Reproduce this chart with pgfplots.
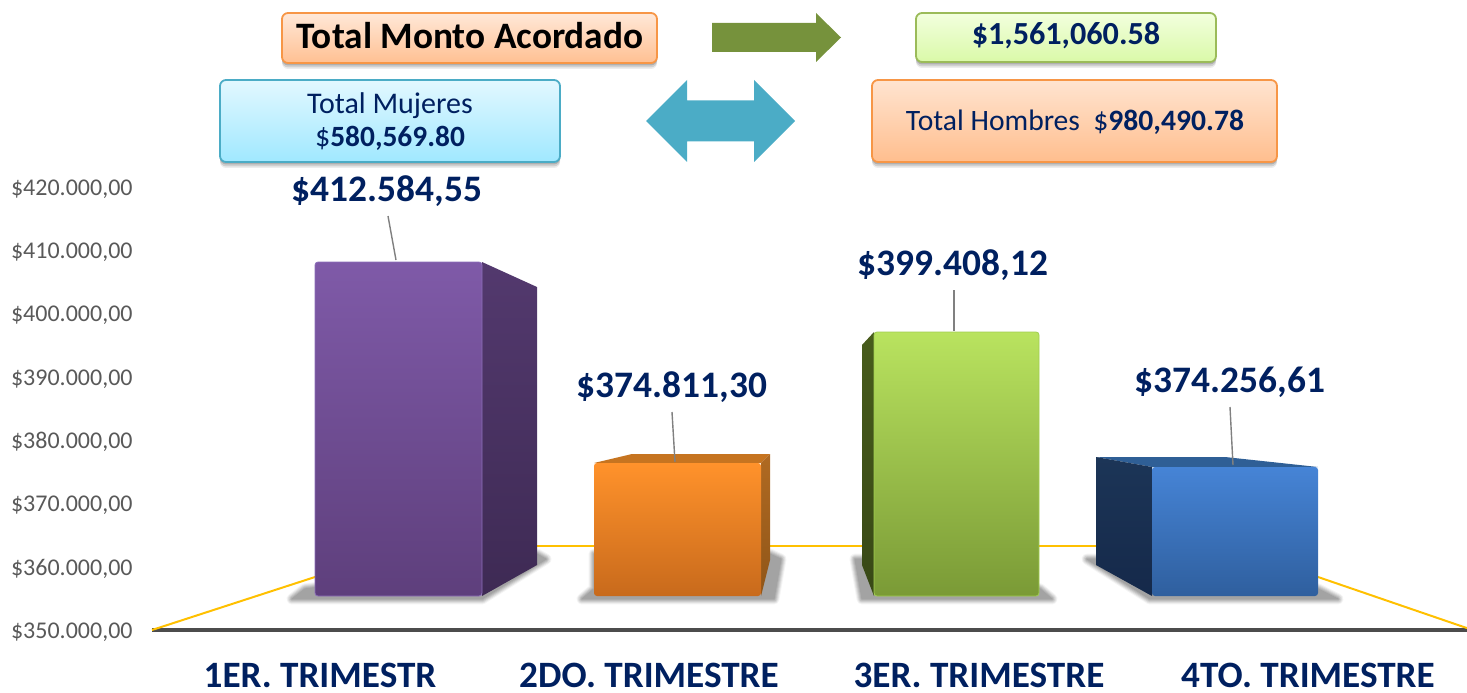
\documentclass[border=0pt]{standalone}
\usepackage{fontspec}
\setmainfont{Carlito}
\usepackage{pgfplots}
\pgfplotsset{compat=1.18}
\usetikzlibrary{shadows}

\definecolor{navy}{HTML}{002060}
\definecolor{tickgray}{HTML}{595959}
\definecolor{floorline}{HTML}{FFC000}
\definecolor{orangeline}{HTML}{F79646}
\definecolor{greenline}{HTML}{9BBB59}
\definecolor{blueline}{HTML}{4BACC6}
\definecolor{arrowgreen}{HTML}{76923C}

% floor shadow: same polygon, opaque, darker and narrower each pass, to fake the blur
\newcommand{\floorshadow}[1]{%
  \addplot[draw=black!4,fill=black!4,line width=5.5pt,line join=round] coordinates {#1} --cycle;
  \addplot[draw=black!10,fill=black!10,line width=4.5pt,line join=round] coordinates {#1} --cycle;
  \addplot[draw=black!17,fill=black!17,line width=3.5pt,line join=round] coordinates {#1} --cycle;
  \addplot[draw=black!24,fill=black!24,line width=2.5pt,line join=round] coordinates {#1} --cycle;
  \addplot[draw=black!30,fill=black!30,line width=1.5pt,line join=round] coordinates {#1} --cycle;
  \addplot[draw=black!36,fill=black!36,line width=.5pt,line join=round] coordinates {#1} --cycle;
}

\begin{document}
\begin{tikzpicture}
\path[use as bounding box] (-76pt,-31pt) rectangle (657.5pt,315pt);
\begin{axis}[
  scale only axis,
  width=657.5pt,
  height=315pt,
  clip=false,
  no markers,
  xmin=152, xmax=1467,
  ymin=350000, ymax=449540,
  axis x line*=bottom,
  axis y line*=left,
  x axis line style={-,draw=black!70,line width=1.6pt},
  y axis line style={draw=none},
  major tick length=0pt,
  xtick={320,649,979,1308},
  xticklabels={1ER. TRIMESTR,2DO. TRIMESTRE,3ER. TRIMESTRE,4TO. TRIMESTRE},
  xticklabel style={font=\fontsize{18.6}{20}\selectfont\bfseries,text=navy,anchor=base,inner sep=0pt,yshift=-28.8pt},
  ytick={350000,360000,370000,380000,390000,400000,410000,420000},
  scaled y ticks=false,
  yticklabel={\$\pgfmathprintnumber{\tick}},
  yticklabel style={font=\fontsize{12}{14}\selectfont,text=tickgray,anchor=east,inner sep=0pt,xshift=-9.5pt,yshift=-1pt,
    /pgf/number format/.cd,fixed,fixed zerofill,precision=2,use comma,1000 sep={.},assume math mode=true},
]
% shadows
\floorshadow{(292,354900) (482,354900) (546,361200) (537,362000) (482,360000) (305,356500)}
\floorshadow{(582,354900) (774,354900) (781,361200) (770,362000) (594,362000) (594,356500)}
\floorshadow{(855,361200) (880,361200) (1040,356500) (1052,354900) (862,354900)}
\floorshadow{(1087,361200) (1105,361200) (1318,356500) (1338,354900) (1150,354900)}

% yellow floor
\addplot[floorline,line width=1pt] coordinates {(152,350000) (315,358374)};
\addplot[floorline,line width=1pt] coordinates {(537,363272) (1100,363272)};
\addplot[floorline,line width=1pt] coordinates {(1318,358374) (1467,350300)};

% bar 1, purple
\addplot[draw=none,top color={rgb,255:red,83;green,57;blue,110},bottom color={rgb,255:red,62;green,42;blue,84}]
  coordinates {(482,408144) (537,404194) (537,360270) (482,355372)} --cycle;
\addplot[draw={rgb,255:red,140;green,110;blue,185},line width=.4pt,rounded corners=1.5pt,top color={rgb,255:red,127;green,90;blue,168},bottom color={rgb,255:red,94;green,63;blue,124}]
  coordinates {(315,408144) (482,408144) (482,355372) (315,355372)} --cycle;

% bar 2, orange
\addplot[draw=none,fill={rgb,255:red,198;green,116;blue,32}]
  coordinates {(594,376386) (632,377808) (770,377808) (761,376386)} --cycle;
\addplot[draw=none,top color={rgb,255:red,176;green,106;blue,34},bottom color={rgb,255:red,143;green,85;blue,24}]
  coordinates {(761,376386) (770,377808) (770,361060) (761,355372)} --cycle;
\addplot[draw=none,rounded corners=1.5pt,top color={rgb,255:red,255;green,146;blue,43},bottom color={rgb,255:red,200;green,106;blue,28}]
  coordinates {(594,376386) (761,376386) (761,355372) (594,355372)} --cycle;

% bar 3, green
\addplot[draw=none,top color={rgb,255:red,72;green,92;blue,28},bottom color={rgb,255:red,56;green,72;blue,22}]
  coordinates {(862,395030) (874,397084) (874,355372) (862,360270)} --cycle;
\addplot[draw={rgb,255:red,160;green,205;blue,80},line width=.4pt,rounded corners=1.5pt,top color={rgb,255:red,185;green,227;blue,95},bottom color={rgb,255:red,122;green,154;blue,54}]
  coordinates {(874,397084) (1039,397084) (1039,355372) (874,355372)} --cycle;

% bar 4, blue
\addplot[draw=none,fill={rgb,255:red,47;green,95;blue,150}]
  coordinates {(1096,377334) (1225,377334) (1318,375754) (1152,375754)} --cycle;
\addplot[draw=none,top color={rgb,255:red,28;green,53;blue,87},bottom color={rgb,255:red,21;green,41;blue,74}]
  coordinates {(1096,377334) (1152,375754) (1152,355372) (1096,360270)} --cycle;
\addplot[draw=none,rounded corners=1.5pt,top color={rgb,255:red,70;green,132;blue,214},bottom color={rgb,255:red,47;green,95;blue,158}]
  coordinates {(1152,375754) (1318,375754) (1318,355372) (1152,355372)} --cycle;

% leader lines
\addplot[gray,line width=.7pt] coordinates {(388,415412) (396,408460)};
\addplot[gray,line width=.7pt] coordinates {(672,384444) (675,376544)};
\addplot[gray,line width=.7pt] coordinates {(954,403720) (954,397242)};
\addplot[gray,line width=.7pt] coordinates {(1230,385234) (1233,376070)};

% value labels
\addplot[draw=none,point meta=explicit symbolic,nodes near coords,
  every node near coord/.append style={anchor=center,inner sep=0pt,yshift=-.8pt,text=navy,font=\fontsize{18.7}{20}\selectfont\bfseries}]
  coordinates {
    (387,419520) [\$412.584,55]
    (672,388552) [\$374.811,30]
    (953,407828) [\$399.408,12]
    (1230,389342) [\$374.256,61]
  };
\end{axis}

% boxes and arrows above the plot, in image pixels
\begin{scope}[shift={(-76pt,315pt)},x=.5pt,y=-.5pt]
  \tikzset{box/.style={rounded corners=3pt,line width=.9pt,
    drop shadow={shadow xshift=0pt,shadow yshift=-3pt,opacity=.07,fill=black},
    drop shadow={shadow xshift=0pt,shadow yshift=-2.2pt,opacity=.12,fill=black},
    drop shadow={shadow xshift=0pt,shadow yshift=-1.2pt,opacity=.16,fill=black}}}
  \tikzset{txt/.style={inner sep=0pt,align=center,text=navy,font=\fontsize{15}{16.5}\selectfont}}
  \draw[box,draw=orangeline,top color={rgb,255:red,255;green,232;blue,216},bottom color={rgb,255:red,255;green,192;blue,146}] (282,13) rectangle (657,63);
  \node[inner sep=0pt,font=\fontsize{18.65}{20}\selectfont\bfseries] at (470,36) {Total Monto Acordado};

  \draw[box,draw=greenline,top color={rgb,255:red,242;green,255;blue,222},bottom color={rgb,255:red,218;green,249;blue,168}] (916,13) rectangle (1216,62);
  \node[txt,font=\fontsize{16.1}{18}\selectfont\bfseries] at (1066,36) {\$1,561,060.58};

  \draw[box,draw=blueline,top color={rgb,255:red,226;green,248;blue,255},bottom color={rgb,255:red,160;green,232;blue,255}] (220,80) rectangle (560,162);
  \node[txt] at (390,121.5) {Total Mujeres\\\$\textbf{\fontsize{14.7}{16.5}\selectfont 580,569.80}};

  \draw[box,draw=orangeline,top color={rgb,255:red,255;green,228;blue,208},bottom color={rgb,255:red,255;green,190;blue,142}] (872,80) rectangle (1277,162);
  \node[txt,font=\fontsize{14.8}{16.5}\selectfont] at (1075,122) {Total Hombres\ \ \$\textbf{980,490.78}};

  \fill[arrowgreen] (712,23) -- (816,23) -- (816,13) -- (841,37.5) -- (816,62) -- (816,52) -- (712,52) -- cycle;
  \fill[blueline] (646,121) -- (687,80) -- (687,100.5) -- (754,100.5) -- (754,80) -- (795,121) -- (754,162) -- (754,141.5) -- (687,141.5) -- (687,162) -- cycle;
\end{scope}
\end{tikzpicture}
\end{document}
